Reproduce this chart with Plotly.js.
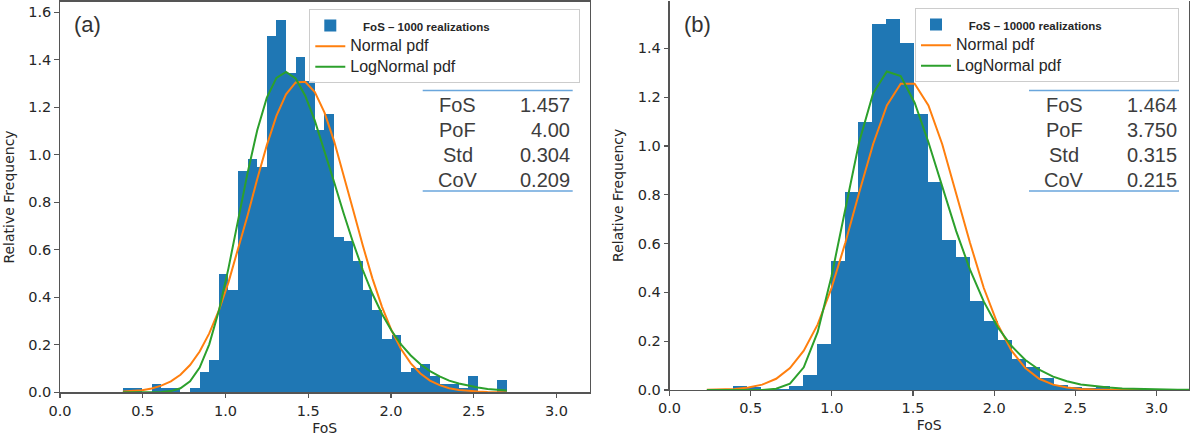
<!DOCTYPE html>
<html>
<head>
<meta charset="utf-8">
<script src="https://cdn.plot.ly/plotly-3.0.1.min.js"></script>
<style>
html,body{margin:0;padding:0;background:#ffffff;}
#chart{width:1192px;height:440px;}
</style>
</head>
<body>
<div id="chart"></div>
<script>
// ---------- Panel (a): 1000 realizations ----------
const binLeftA = [0.380,0.438,0.496,0.554,0.612,0.670,0.728,0.786,0.844,0.902,0.960,1.018,1.076,1.134,1.192,1.250,1.308,1.366,1.424,1.482,1.540,1.598,1.656,1.714,1.772,1.830,1.888,1.946,2.004,2.062,2.120,2.178,2.236,2.294,2.352,2.410,2.468,2.526,2.584,2.642];
const binWidthA = 0.058;
const relFreqA = [0.017,0.017,0,0.034,0.017,0.017,0,0.017,0.086,0.138,0.500,0.431,0.931,0.983,0.948,1.500,1.569,1.345,1.414,1.310,1.103,1.172,0.655,0.638,0.552,0.431,0.345,0.224,0.241,0.086,0.103,0.121,0.069,0.034,0.034,0.017,0.069,0,0,0.052];
const curveXA = [0.380,0.438,0.496,0.554,0.612,0.670,0.728,0.786,0.844,0.902,0.960,1.018,1.076,1.134,1.192,1.250,1.308,1.366,1.424,1.482,1.540,1.598,1.656,1.714,1.772,1.830,1.888,1.946,2.004,2.062,2.120,2.178,2.236,2.294,2.352,2.410,2.468,2.526,2.584,2.642,2.700];
const normalA = [0.003,0.005,0.009,0.016,0.028,0.046,0.074,0.115,0.172,0.248,0.345,0.463,0.599,0.746,0.898,1.041,1.164,1.255,1.305,1.308,1.264,1.179,1.059,0.918,0.767,0.618,0.480,0.360,0.260,0.181,0.122,0.079,0.049,0.030,0.017,0.010,0.005,0.003,0.001,0.001,0.000];
const lognormalA = [0,0,0,0.000,0.001,0.005,0.017,0.046,0.104,0.202,0.343,0.522,0.723,0.925,1.104,1.241,1.324,1.349,1.322,1.249,1.144,1.020,0.887,0.754,0.629,0.515,0.415,0.330,0.259,0.201,0.155,0.118,0.089,0.067,0.049,0.037,0.027,0.020,0.014,0.010,0.008];
const statsLabels = ["FoS","PoF","Std","CoV"];
const statsA = ["1.457","4.00","0.304","0.209"];

// ---------- Panel (b): 10000 realizations ----------
const binLeftB = [0.390,0.476,0.562,0.648,0.734,0.820,0.906,0.992,1.078,1.164,1.250,1.336,1.422,1.508,1.594,1.680,1.766,1.852,1.938,2.024,2.110,2.196,2.282,2.368,2.454,2.540,2.626];
const binWidthB = 0.086;
const relFreqB = [0.015,0.012,0.006,0.006,0.017,0.062,0.187,0.528,0.812,1.097,1.500,1.520,1.420,1.132,0.854,0.613,0.547,0.364,0.282,0.205,0.126,0.096,0.050,0.022,0.012,0.007,0.018];
const curveXB = [0.230,0.315,0.401,0.486,0.571,0.657,0.742,0.827,0.913,0.998,1.083,1.168,1.254,1.339,1.424,1.510,1.595,1.680,1.766,1.851,1.936,2.022,2.107,2.192,2.277,2.363,2.448,2.533,2.619,2.704,2.789,2.875,2.960,3.045,3.130,3.216];
const normalB = [0.001,0.002,0.004,0.010,0.022,0.046,0.090,0.161,0.269,0.418,0.603,0.808,1.007,1.166,1.255,1.255,1.166,1.007,0.808,0.603,0.418,0.269,0.161,0.090,0.046,0.022,0.010,0.004,0.002,0.001,0.000,0.000,0,0,0,0];
const lognormalB = [0,0,0,0.000,0.000,0.005,0.026,0.093,0.238,0.466,0.745,1.015,1.215,1.305,1.286,1.177,1.015,0.832,0.651,0.493,0.362,0.257,0.180,0.123,0.083,0.055,0.036,0.023,0.015,0.010,0.006,0.004,0.002,0.002,0.001,0.001];
const statsB = ["1.464","3.750","0.315","0.215"];

const xTicks = [0,0.5,1.0,1.5,2.0,2.5,3.0];

// ---------- geometry (pixels of the 1192x440 picture) ----------
const W = 1192, H = 440;
const px = v => v / W;
const py = v => (H - v) / H;

const barColor = '#1f77b4', orange = '#ff7f0e', green = '#2ca02c';
const legendFont = {family:'Liberation Sans, Arial, sans-serif', size:13.5, color:'#262626'};
const nb = n => '\u00a0'.repeat(n);

function barLabel(n, padCount){
  return '<span style="font-size:11.5px"><b>' + nb(4) + 'FoS \u2013 ' + n + ' realizations</b></span>' +
         '<span style="font-size:16px">' + nb(padCount) + '</span>';
}
function bigLabel(t){ return '<span style="font-size:16px">' + t + '</span>'; }

const traces = [
  {type:'bar', x:binLeftA, y:relFreqA, width:binWidthA, offset:0, xaxis:'x', yaxis:'y', legend:'legend',
   marker:{color:barColor, line:{width:0}}, name:barLabel('1000', 19)},
  {type:'scatter', mode:'lines', x:curveXA, y:normalA, xaxis:'x', yaxis:'y', legend:'legend',
   line:{color:orange, width:2}, name:bigLabel('Normal pdf')},
  {type:'scatter', mode:'lines', x:curveXA, y:lognormalA, xaxis:'x', yaxis:'y', legend:'legend',
   line:{color:green, width:2}, name:bigLabel('LogNormal pdf')},
  {type:'bar', x:binLeftB, y:relFreqB, width:binWidthB, offset:0, xaxis:'x2', yaxis:'y2', legend:'legend2',
   marker:{color:barColor, line:{width:0}}, name:barLabel('10000', 16)},
  {type:'scatter', mode:'lines', x:curveXB, y:normalB, xaxis:'x2', yaxis:'y2', legend:'legend2',
   line:{color:orange, width:2}, name:bigLabel('Normal pdf')},
  {type:'scatter', mode:'lines', x:curveXB, y:lognormalB, xaxis:'x2', yaxis:'y2', legend:'legend2',
   line:{color:green, width:2}, name:bigLabel('LogNormal pdf')}
];

const tickFont = {family:'DejaVu Sans, sans-serif', size:14.5, color:'#262626'};
const titleFont = {family:'DejaVu Sans, sans-serif', size:14, color:'#262626'};
const axisBase = {
  showline:true, mirror:true, linecolor:'#555555', linewidth:1.3,
  ticks:'outside', ticklen:4.5, tickwidth:1.2, tickcolor:'#555555',
  showgrid:false, zeroline:false, tickfont:tickFont, tickformat:'.1f', fixedrange:true
};

function xAxis(dom, anchor){
  return Object.assign({}, axisBase, {domain:dom, range:[0,3.2], tickvals:xTicks, anchor:anchor,
    title:{text:'FoS', font:titleFont, standoff:5}});
}
function yAxis(dom, top, anchor){
  return Object.assign({}, axisBase, {domain:dom, range:[0,top], tick0:0, dtick:0.2, anchor:anchor,
    title:{text:'Relative Frequency', font:titleFont, standoff:10}});
}

function legendAt(x, y){
  return {x:px(x), y:py(y), xanchor:'left', yanchor:'top', bgcolor:'rgba(255,255,255,0.8)',
    bordercolor:'#cccccc', borderwidth:1, font:legendFont, itemwidth:30, tracegroupgap:0,
    traceorder:'normal'};
}

const annotations = [];
const shapes = [];
const tblFont = {family:'Liberation Sans, Arial, sans-serif', size:20, color:'#3d3d3d'};
const rowsY = [105, 130, 154.5, 179.5];
function table(labelCx, valueRight, lineL, lineR, values){
  statsLabels.forEach((lab, i) => {
    annotations.push({xref:'paper', yref:'paper', x:px(labelCx), y:py(rowsY[i]), xanchor:'center', yanchor:'middle',
      text:lab, showarrow:false, font:tblFont});
    annotations.push({xref:'paper', yref:'paper', x:px(valueRight), y:py(rowsY[i]), xanchor:'right', yanchor:'middle',
      text:values[i], showarrow:false, font:tblFont});
  });
  [90.5, 191].forEach(yy => shapes.push({type:'line', xref:'paper', yref:'paper',
    x0:px(lineL), x1:px(lineR), y0:py(yy), y1:py(yy), line:{color:'#6aa6dc', width:1.4}}));
}
table(458, 572, 422.7, 572.7, statsA);
table(1064.3, 1179, 1029, 1179, statsB);

annotations.push({xref:'paper', yref:'paper', x:px(72), y:py(25), xanchor:'left', yanchor:'middle',
  text:'(a)', showarrow:false, font:{family:'Liberation Sans, Arial, sans-serif', size:22, color:'#333333'}});
annotations.push({xref:'paper', yref:'paper', x:px(682), y:py(24), xanchor:'left', yanchor:'middle',
  text:'(b)', showarrow:false, font:{family:'Liberation Sans, Arial, sans-serif', size:22, color:'#333333'}});

const layout = {
  width:W, height:H,
  margin:{l:0, r:0, t:0, b:0, autoexpand:false},
  paper_bgcolor:'#ffffff', plot_bgcolor:'#ffffff',
  showlegend:true,
  bargap:0,
  xaxis: xAxis([px(60), px(589.5)], 'y'),
  yaxis: yAxis([py(392.3), py(1.7)], 1.645, 'x'),
  xaxis2: xAxis([px(669.5), px(1189)], 'y2'),
  yaxis2: yAxis([py(390), py(0.5)], 1.596, 'x2'),
  legend: legendAt(309.3, 9.3),
  legend2: legendAt(915, 8.3),
  annotations: annotations,
  shapes: shapes
};

Plotly.newPlot('chart', traces, layout, {displayModeBar:false, staticPlot:true});
</script>
</body>
</html>
